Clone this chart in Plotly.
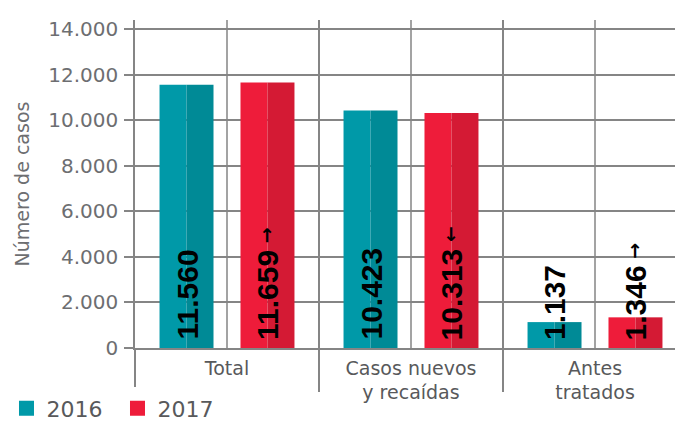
import plotly.graph_objects as go

# ---- data ----
categories = ["Total", "Casos nuevos<br>y recaídas", "Antes<br>tratados"]
values_2016 = [11560, 10423, 1137]
values_2017 = [11659, 10313, 1346]
# arrow glyphs shown after the 2017 labels (text is rotated -90°, so → reads as up, ← as down)
arrows_2017 = ["→", "←", "→"]
y_tickvals = [0, 2000, 4000, 6000, 8000, 10000, 12000, 14000]
y_ticktext = ["0", "2.000", "4.000", "6.000", "8.000", "10.000", "12.000", "14.000"]
series_names = ["2016", "2017"]

# ---- style ----
TEAL_L, TEAL_D = "#0099A8", "#008A96"
RED_L, RED_D = "#EE1C3A", "#D41A34"
GRID = "#858585"
TXT = "#6d6e71"
FONT = "DejaVu Sans"
LBL_FONT = dict(family="Liberation Sans", size=30, color="black", weight="bold")
ARROW_STYLE = "font-family:DejaVu Sans;font-size:19px;baseline-shift:5px"

def fmt(v):
    return f"{v:,}".replace(",", ".")

C16, C17 = -0.22, 0.22
HW = 0.1467

fig = go.Figure()
for vals, center, cl, cd in [(values_2016, C16, TEAL_L, TEAL_D), (values_2017, C17, RED_L, RED_D)]:
    fig.add_trace(go.Bar(x=categories, y=vals, offset=center - HW, width=HW,
                         marker=dict(color=cl, line=dict(width=0)), showlegend=False, hoverinfo="skip"))
    fig.add_trace(go.Bar(x=categories, y=vals, offset=center, width=HW,
                         marker=dict(color=cd, line=dict(width=0)), showlegend=False, hoverinfo="skip"))

# legend entries
for name, col in zip(series_names, [TEAL_L, RED_L]):
    fig.add_trace(go.Scatter(x=[None], y=[None], mode="markers", name=name,
                             marker=dict(symbol="square", size=15, color=col)))

annotations = []
for i in range(len(categories)):
    annotations.append(dict(x=i + C16, y=0, xref="x", yref="y", text=fmt(values_2016[i]),
                            textangle=-90, showarrow=False, xanchor="center", yanchor="bottom",
                            yshift=6, font=LBL_FONT))
    annotations.append(dict(x=i + C17, y=0, xref="x", yref="y",
                            text=fmt(values_2017[i]) + '<span style="' + ARROW_STYLE + '"> ' + arrows_2017[i] + "</span>",
                            textangle=-90, showarrow=False, xanchor="center", yanchor="bottom",
                            yshift=6, font=LBL_FONT))

shapes = []
for i in range(len(categories)):
    shapes.append(dict(type="line", xref="x", yref="paper", x0=i, x1=i, y0=0, y1=1,
                       line=dict(color=GRID, width=1.5), layer="below"))

# page body has an 8px default margin: the figure is sized to fit the 683x423 window
W, H = 675, 415
ML, MR, MT, MB = 127, 0, 12, 75
px_per_cat = 184
x_right = -0.5 + (W - ML - MR) / px_per_cat

fig.update_layout(
    width=W, height=H,
    margin=dict(l=ML, r=MR, t=MT, b=MB, autoexpand=False),
    paper_bgcolor="white", plot_bgcolor="white",
    barmode="overlay",
    font=dict(family=FONT, color=TXT),
    annotations=annotations,
    shapes=shapes,
    showlegend=True,
    legend=dict(orientation="h", x=-0.2345, xanchor="left", y=-0.184, yanchor="middle",
                font=dict(size=22, color="#58595b"), entrywidth=66, itemwidth=30),
    xaxis=dict(type="category", range=[-0.5, x_right], tickson="boundaries",
               ticks="outside", ticklen=42, tickwidth=1.5, tickcolor=GRID,
               showgrid=True, gridcolor=GRID, gridwidth=1.5,
               showline=True, linecolor=GRID, linewidth=1.5,
               tickfont=dict(size=19, color="#58595b"), ticklabelstandoff=2),
    yaxis=dict(range=[0, 14400], tickvals=y_tickvals, ticktext=y_ticktext,
               ticks="outside", ticklen=9, tickwidth=1.5, tickcolor=GRID,
               showgrid=True, gridcolor=GRID, gridwidth=1.5, zeroline=False,
               showline=True, linecolor=GRID, linewidth=1.5,
               tickfont=dict(size=20, color=TXT), ticklabelstandoff=2,
               title=dict(text="Número de casos", font=dict(size=19, color=TXT), standoff=14)),
)

fig.write_html("out.html")
